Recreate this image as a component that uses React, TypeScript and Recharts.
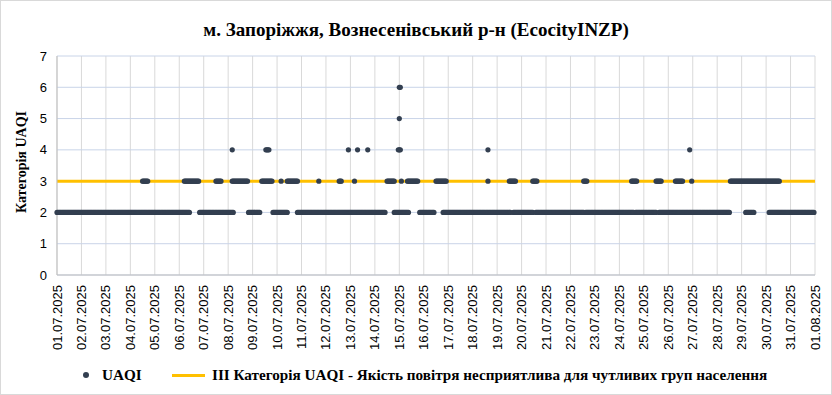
import { ScatterChart, Scatter, XAxis, YAxis, CartesianGrid, ReferenceLine } from 'recharts';

// hours counted from 01.07.2025 00:00
const dayLabels = [
  '01.07.2025', '02.07.2025', '03.07.2025', '04.07.2025', '05.07.2025', '06.07.2025', '07.07.2025', '08.07.2025',
  '09.07.2025', '10.07.2025', '11.07.2025', '12.07.2025', '13.07.2025', '14.07.2025', '15.07.2025', '16.07.2025',
  '17.07.2025', '18.07.2025', '19.07.2025', '20.07.2025', '21.07.2025', '22.07.2025', '23.07.2025', '24.07.2025',
  '25.07.2025', '26.07.2025', '27.07.2025', '28.07.2025', '29.07.2025', '30.07.2025', '31.07.2025', '01.08.2025',
];
const uaqiTicks = [0, 1, 2, 3, 4, 5, 6, 7];
const thresholdValue = 3;

// [first hour, last hour] stretches where UAQI stayed at a level
const level2Runs: [number, number][] = [
  [0, 130], [140, 173], [188, 199], [212, 226], [236, 322], [331, 345], [356, 370],
  [379, 445], [448, 467], [470, 517], [519, 566], [568, 588], [591, 660], [676, 684], [699, 743],
];
const level3Runs: [number, number][] = [
  [84, 89], [125, 139], [156, 161], [172, 187], [201, 211], [220, 220], [226, 236], [257, 257],
  [277, 279], [292, 292], [324, 331], [338, 338], [344, 354], [372, 382], [423, 423], [444, 450],
  [467, 471], [517, 520], [564, 569], [588, 593], [607, 614], [623, 623], [661, 709],
];
const level4Hours = [172, 205, 206, 207, 208, 286, 295, 305, 335, 336, 337, 423, 621];
const level5Hours = [336];
const level6Hours = [336, 337];

const expand = (runs: [number, number][], value: number) =>
  runs.flatMap(([a, b]) => Array.from({ length: b - a + 1 }, (_, i) => ({ hour: a + i, uaqi: value })));

const uaqiData = [
  ...expand(level2Runs, 2),
  ...expand(level3Runs, 3),
  ...level4Hours.map((h) => ({ hour: h, uaqi: 4 })),
  ...level5Hours.map((h) => ({ hour: h, uaqi: 5 })),
  ...level6Hours.map((h) => ({ hour: h, uaqi: 6 })),
];

const hourTicks = dayLabels.map((_, i) => i * 24);

const SANS = '"Liberation Sans", Arial, sans-serif';
const SERIF = '"Liberation Serif", "Times New Roman", serif';
const DOT = '#333F50';
const YELLOW = '#FFC000';

const DateTick = ({ x, y, payload }: any) => (
  <text
    x={x}
    y={y + 2}
    transform={`rotate(-90 ${x} ${y + 2})`}
    textAnchor="end"
    dominantBaseline="central"
    fontSize={13}
    fontFamily={SANS}
    fill="#000"
  >
    {dayLabels[Math.round(payload.value / 24)]}
  </text>
);

const Dot = ({ cx, cy }: any) => <circle cx={cx} cy={cy} r={2.6} fill={DOT} />;

export default function App() {
  return (
    <div style={{ position: 'relative', width: 832, height: 395, background: '#fff' }}>
      <style>{'body{margin:0}'}</style>
      <ScatterChart width={832} height={395} margin={{ top: 56, right: 17, left: 0, bottom: 0 }}>
        <CartesianGrid horizontal={false} stroke="#D9D9D9" />
        <CartesianGrid vertical={false} stroke="#C9D4E8" />
        <XAxis
          type="number"
          dataKey="hour"
          domain={[0, 744]}
          ticks={hourTicks}
          interval={0}
          height={120}
          tickLine={false}
          axisLine={{ stroke: '#BFBFBF' }}
          tick={<DateTick />}
        />
        <YAxis
          type="number"
          dataKey="uaqi"
          domain={[0, 7]}
          ticks={uaqiTicks}
          width={57}
          tickLine={false}
          tickMargin={4}
          axisLine={{ stroke: '#BFBFBF' }}
          tick={{ fontSize: 13, fontFamily: SANS, fill: '#000' }}
        />
        <ReferenceLine y={thresholdValue} stroke={YELLOW} strokeWidth={3} />
        <Scatter name="UAQI" data={uaqiData} shape={<Dot />} isAnimationActive={false} />
      </ScatterChart>

      <div
        style={{
          position: 'absolute', top: 19, left: 0, width: 832, textAlign: 'center',
          fontFamily: SERIF, fontWeight: 'bold', fontSize: 19, lineHeight: '21px', color: '#000',
        }}
      >
        м. Запоріжжя, Вознесенівський р-н (EcocityINZP)
      </div>

      <div
        style={{
          position: 'absolute', left: 22 - 100, top: 162 - 9, width: 200, height: 18, lineHeight: '18px',
          textAlign: 'center', transform: 'rotate(-90deg)',
          fontFamily: SERIF, fontWeight: 'bold', fontSize: 14, color: '#000',
        }}
      >
        Категорія UAQI
      </div>

      <div style={{ position: 'absolute', top: 366, left: 0, height: 18, width: 832, fontFamily: SERIF, fontWeight: 'bold', fontSize: 15.2, color: '#000' }}>
        <span style={{ position: 'absolute', left: 83, top: 6, width: 6, height: 6, borderRadius: 3, background: DOT }} />
        <span style={{ position: 'absolute', left: 102, top: 0, lineHeight: '18px' }}>UAQI</span>
        <span style={{ position: 'absolute', left: 172, top: 8, width: 33, height: 3, background: YELLOW }} />
        <span style={{ position: 'absolute', left: 212, top: 0, lineHeight: '18px', whiteSpace: 'nowrap' }}>
          ІІІ Категорія UAQI - Якість повітря несприятлива для чутливих груп населення
        </span>
      </div>

      <div style={{ position: 'absolute', inset: 0, border: '1px solid #D9D9D9', pointerEvents: 'none' }} />
    </div>
  );
}
